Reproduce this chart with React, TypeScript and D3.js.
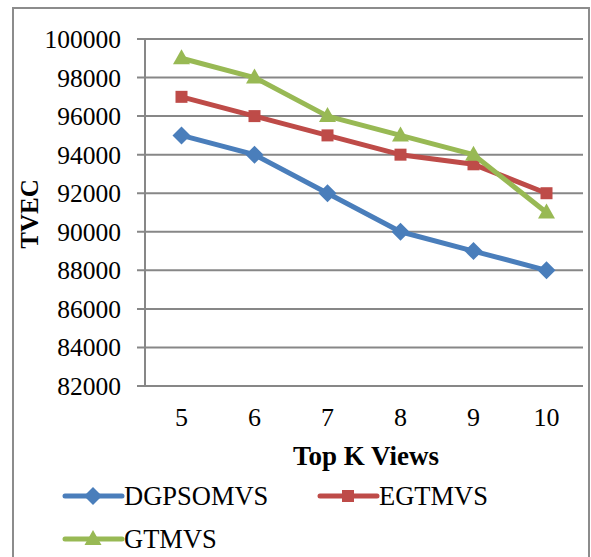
import React from "react";
import * as d3 from "d3";

const categories = ["5", "6", "7", "8", "9", "10"];
const dgpsomvs = [95000, 94000, 92000, 90000, 89000, 88000];
const egtmvs = [97000, 96000, 95000, 94000, 93500, 92000];
const gtmvs = [99000, 98000, 96000, 95000, 94000, 91000];
const yTicks = [82000, 84000, 86000, 88000, 90000, 92000, 94000, 96000, 98000, 100000];
const seriesNames = ["DGPSOMVS", "EGTMVS", "GTMVS"];
const colors = ["#4A7EBB", "#BE4B48", "#98B954"];

const W = 591;
const H = 557;
const plot = { left: 145, right: 583, top: 39, bottom: 386 };
const font = "'Liberation Serif', 'Times New Roman', serif";

function Marker({ kind, x, y, color }: { kind: number; x: number; y: number; color: string }) {
  if (kind === 0) {
    const r = 9;
    return <path d={`M${x},${y - r}L${x + r},${y}L${x},${y + r}L${x - r},${y}Z`} fill={color} />;
  }
  if (kind === 1) {
    const s = 12;
    return <rect x={x - s / 2} y={y - s / 2} width={s} height={s} fill={color} />;
  }
  const w = 17, h = 15;
  return <path d={`M${x},${y - h * 0.6}L${x + w / 2},${y + h * 0.4}L${x - w / 2},${y + h * 0.4}Z`} fill={color} />;
}

export default function App() {
  const x = d3.scaleBand<string>().domain(categories).range([plot.left, plot.right]);
  const y = d3.scaleLinear().domain([82000, 100000]).range([plot.bottom, plot.top]);
  const cx = (c: string) => (x(c) as number) + x.bandwidth() / 2;
  const data = [dgpsomvs, egtmvs, gtmvs];
  const line = d3
    .line<number>()
    .x((_, i) => cx(categories[i]))
    .y((d) => y(d));

  const legend = [
    { x0: 65, y0: 496 },
    { x0: 320, y0: 496 },
    { x0: 65, y0: 539 },
  ];

  return (
    <svg width={W} height={H} style={{ position: "absolute", left: 0, top: 0, background: "#fff" }}>
      <rect x={13} y={8} width={576} height={570} fill="#fff" stroke="#8c8c8c" strokeWidth={2} />
      {yTicks.map((t) => (
        <g key={t}>
          <line x1={plot.left - 8} x2={plot.right} y1={y(t)} y2={y(t)} stroke="#878787" strokeWidth={2} />
          <text x={121} y={y(t) + 9} textAnchor="end" fontFamily={font} fontSize={25.5} fill="#000">
            {t}
          </text>
        </g>
      ))}
      <line x1={plot.left} x2={plot.left} y1={plot.top} y2={plot.bottom} stroke="#878787" strokeWidth={2} />
      {categories.map((c) => (
        <text key={c} x={cx(c)} y={426} textAnchor="middle" fontFamily={font} fontSize={26} fill="#000">
          {c}
        </text>
      ))}
      <text x={366} y={465} textAnchor="middle" fontFamily={font} fontSize={27} fontWeight="bold" fill="#000">
        Top K Views
      </text>
      <text
        transform={`translate(38,214) rotate(-90)`}
        textAnchor="middle"
        fontFamily={font}
        fontSize={25}
        fontWeight="bold"
        fill="#000"
      >
        TVEC
      </text>
      {data.map((s, k) => (
        <g key={k}>
          <path d={line(s) as string} fill="none" stroke={colors[k]} strokeWidth={5} strokeLinejoin="round" />
          {s.map((v, i) => (
            <Marker key={i} kind={k} x={cx(categories[i])} y={y(v)} color={colors[k]} />
          ))}
        </g>
      ))}
      {seriesNames.map((n, k) => {
        const L = legend[k];
        return (
          <g key={n}>
            <line x1={L.x0} x2={L.x0 + 57} y1={L.y0} y2={L.y0} stroke={colors[k]} strokeWidth={5} strokeLinecap="round" />
            <Marker kind={k} x={L.x0 + 28} y={L.y0} color={colors[k]} />
            <text x={L.x0 + 59} y={L.y0 + 9} fontFamily={font} fontSize={26.5} fill="#000">
              {n}
            </text>
          </g>
        );
      })}
    </svg>
  );
}
